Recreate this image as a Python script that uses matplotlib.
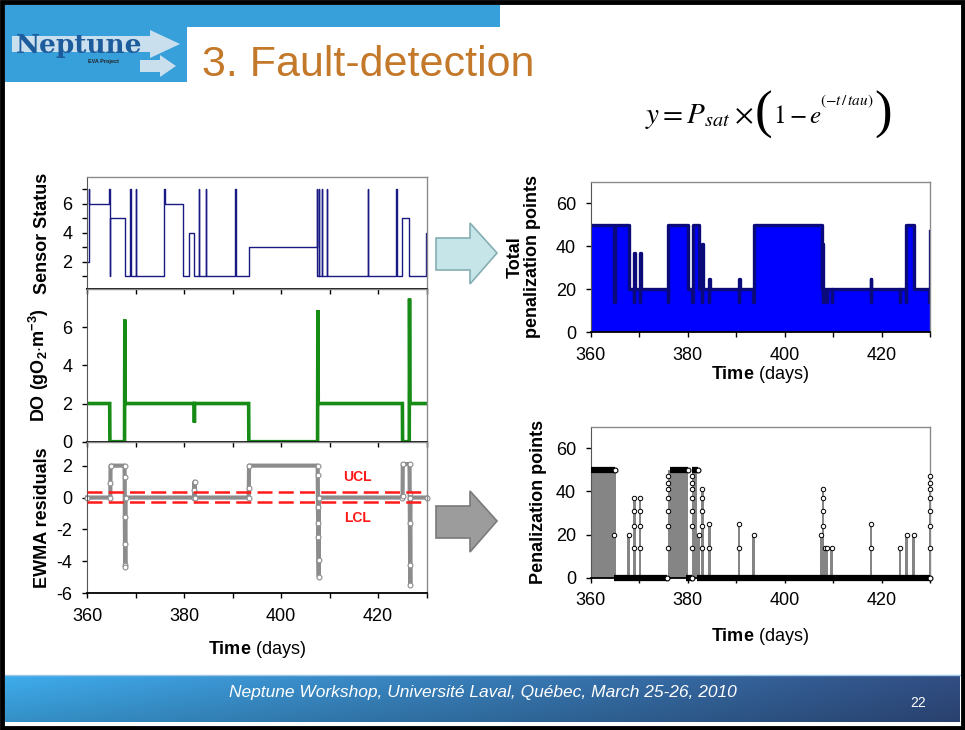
import numpy as np
import matplotlib
matplotlib.use('Agg')
import matplotlib.pyplot as plt
from matplotlib.patches import Rectangle, Polygon

plt.rcParams['font.family'] = ['Liberation Sans', 'DejaVu Sans']
plt.rcParams['mathtext.fontset'] = 'custom'
plt.rcParams['mathtext.rm'] = 'Liberation Sans'
plt.rcParams['mathtext.bf'] = 'Liberation Sans:bold'
plt.rcParams['mathtext.it'] = 'Liberation Sans:italic'
plt.rcParams['axes.unicode_minus'] = False

# ---------------- data ----------------
x_ticks = [360, 370, 380, 390, 400, 410, 420, 430]
x_tick_labels = ['360', '', '380', '', '400', '', '420', '']

status_days = [360.0, 360.34, 360.45, 364.61, 364.66, 364.81, 367.77, 368.94, 369.0, 370.11,
               370.17, 375.95, 376.16, 379.87, 380.97, 382.14, 383.03, 383.09, 384.48, 384.54,
               390.6, 390.66, 393.35, 407.45, 407.51, 407.79, 407.85, 408.48, 408.54, 409.51,
               409.57, 417.9, 417.96, 423.81, 423.87, 425.05, 426.42, 429.97, 430.0]
status_vals = [2, 7, 6, 7, 1, 5, 1, 7, 1, 7,
               1, 7, 6, 1, 4, 1, 7, 1, 7, 1,
               7, 1, 3, 7, 1, 7, 1, 7, 1, 7,
               1, 7, 1, 7, 1, 5, 1, 4, 4]
status_ticks = [1, 2, 3, 4, 5, 6, 7]
status_tick_labels = ['', '2', '', '4', '', '6', '']

do_days = [360.0, 364.68, 364.72, 367.74, 367.8, 367.88, 382.1, 382.14, 382.18, 393.33,
           393.37, 407.54, 407.6, 407.68, 425.03, 425.07, 426.44, 426.5, 426.58, 430.0]
do_vals = [2.0, 2.0, 0.0, 0.0, 6.4, 2.0, 2.0, 1.0, 2.0, 2.0,
           0.0, 0.0, 6.9, 2.0, 2.0, 0.0, 0.0, 7.5, 2.0, 2.0]
do_ticks = [0, 2, 4, 6]

ew_days = [360.0, 364.8, 364.83, 364.86, 367.74, 367.77, 367.8, 367.84, 367.88, 367.92,
           367.96, 382.1, 382.14, 382.18, 382.22, 393.33, 393.37, 393.41, 407.55, 407.58,
           407.62, 407.66, 407.7, 407.74, 407.78, 407.82, 425.03, 425.07, 425.11, 426.5,
           426.54, 426.58, 426.62, 426.66, 426.7, 430.0]
ew_vals = [0, 0, 0.9, 2.0, 2.0, 1.3, -1.2, -2.9, -4.2, -4.35,
           0, 0, 0.5, 1.0, 0, 0, 0.6, 2.0, 2.0, 1.4,
           -0.6, -1.6, -2.5, -3.9, -4.95, 0, 0, 0.1, 2.1, 2.1,
           0.3, -1.6, -4.2, -5.5, 0, 0]
ew_ticks = [-6, -4, -2, 0, 2]
ucl = 0.35
lcl = -0.28

tp_days = [360.0, 364.85, 364.95, 367.8, 368.95, 369.0, 369.1, 370.15, 370.2, 370.3,
           375.9, 376.0, 380.0, 380.95, 381.05, 382.3, 382.95, 383.0, 383.1, 384.45,
           384.5, 384.6, 390.55, 390.6, 390.7, 393.5, 393.6, 407.7, 407.8, 407.9,
           408.0, 408.6, 408.7, 409.7, 409.8, 417.75, 417.8, 417.9, 423.75, 423.85,
           425.0, 425.1, 426.6, 429.85, 429.9, 430.0]
tp_vals = [50, 14, 50, 20, 14, 37, 20, 14, 37, 20,
           14, 50, 20, 14, 50, 20, 14, 41, 20, 14,
           25, 20, 14, 25, 20, 14, 50, 20, 41, 14,
           20, 14, 20, 14, 20, 14, 25, 20, 14, 20,
           14, 50, 20, 14, 47, 47]
pen_ticks = [0, 20, 40, 60]

blk_start = [360.0, 376.0, 380.9]
blk_end = [365.2, 380.05, 382.0]
blk_val = 50
bar_days = [367.8, 369.0, 370.2, 382.3, 383.0, 384.5, 390.6, 393.6, 407.5, 407.9,
            408.3, 408.7, 409.7, 417.8, 423.8, 425.2, 426.6, 430.0]
bar_vals = [20, 37, 37, 20, 41, 25, 25, 20, 20, 41,
            14, 14, 14, 25, 14, 20, 20, 47]
zero_start = [364.8, 379.6, 382.0]
zero_end = [375.8, 380.9, 430.0]
fifty_start = [360.0, 376.3, 381.0]
fifty_end = [365.0, 380.0, 382.2]
mark_days = [364.8, 367.8,
             369.0, 369.0, 369.0, 369.0,
             370.2, 370.2, 370.2, 370.2,
             376.0, 376.0, 376.0, 376.0, 376.0, 376.0, 376.0,
             380.9, 380.9, 380.9, 380.9, 380.9, 380.9, 380.9,
             382.3,
             383.0, 383.0, 383.0, 383.0, 383.0,
             384.5, 384.5, 390.6, 390.6, 393.6, 407.5,
             407.9, 407.9, 407.9, 407.9,
             408.3, 408.7, 409.7, 417.8, 417.8, 423.8, 425.2, 426.6,
             430.0, 430.0, 430.0, 430.0, 430.0, 430.0, 430.0]
mark_vals = [20, 20,
             14, 24, 31, 37,
             14, 24, 31, 37,
             14, 24, 31, 37, 41, 44, 47,
             14, 24, 31, 37, 41, 44, 47,
             20,
             14, 24, 31, 37, 41,
             14, 25, 14, 25, 20, 20,
             24, 31, 37, 41,
             14, 14, 14, 14, 25, 14, 20, 20,
             14, 24, 31, 37, 41, 44, 47]

# ---------------- figure ----------------
W, H = 965, 730
fig = plt.figure(figsize=(W / 100, H / 100), dpi=100)
bg = fig.add_axes([0, 0, 1, 1])
bg.set_xlim(0, W)
bg.set_ylim(H, 0)
bg.axis('off')
renderer = fig.canvas.get_renderer()

# header
bg.add_patch(Rectangle((5, 5), 495, 22, color='#37A0DB', lw=0))
bg.add_patch(Rectangle((5, 27), 182, 55, color='#37A0DB', lw=0))
bg.add_patch(Polygon([[12, 36], [150, 36], [150, 30], [180, 44], [150, 58], [150, 52], [12, 52]],
                     closed=True, fc='#C9DFEE', ec='none'))
bg.add_patch(Polygon([[140, 60], [160, 60], [160, 55], [176, 66], [160, 77], [160, 72], [140, 72]],
                     closed=True, fc='#C9DFEE', ec='none'))
bg.text(16, 45, 'Neptune', fontsize=19, fontweight='bold', family='DejaVu Serif',
        color='#1D5C9C', va='center', ha='left')
bg.text(88, 62, 'EVA Project', fontsize=4, fontweight='bold', color='#222222',
        va='center', ha='left')
bg.text(202, 65, '3. Fault-detection', fontsize=31, color='#C4782A', va='center', ha='left')

# formula, built piece by piece so the brackets can be tall
pieces = [
    (r'$y = P_{sat} \times$', 21, 'stix', 123, 1),
    ('(', 38, None, 128, 1),
    (r'$1 - e$', 18, 'stix', 123, -2),
    (r'$(-t\,/\,tau)$', 11, 'stix', 105, 0),
    (')', 38, None, 128, 0),
]
xcur = 645
for s, fs, mf, yb, gap in pieces:
    if mf is None:
        t = bg.text(xcur, yb, s, fontsize=fs, family='Liberation Serif', ha='left',
                    va='baseline', color='black')
    else:
        t = bg.text(xcur, yb, s, fontsize=fs, math_fontfamily=mf, ha='left',
                    va='baseline', color='black')
    ext = t.get_window_extent(renderer=renderer)
    xcur = ext.x1 + gap

# footer gradient
nx = 256
hx = np.linspace(0, 1, nx)
c1 = np.array([58, 160, 220]) / 255.0
c2 = np.array([46, 72, 122]) / 255.0
row = c1[None, :] * (1 - hx[:, None]) + c2[None, :] * hx[:, None]
vy = np.linspace(1.08, 0.9, 40)
grad = np.clip(row[None, :, :] * vy[:, None, None], 0, 1)
bg.imshow(grad, extent=[5, 960, 722, 675], aspect='auto', interpolation='bilinear', zorder=1)
bg.plot([5, 960], [675, 675], color='#9CC7E6', lw=1, zorder=2)
bg.text(483, 692, 'Neptune Workshop, Université Laval, Québec, March 25-26, 2010',
        fontsize=12.5, style='italic', color='white', ha='center', va='center', zorder=3)
bg.text(918, 703, '22', fontsize=10, color='white', ha='center', va='center', zorder=3)

# arrows
arrow1 = [[436, 238], [470, 238], [470, 223], [497, 253], [470, 284], [470, 270], [436, 270]]
bg.add_patch(Polygon(arrow1, closed=True, fc='#C6E5E8', ec='#86AEB2', lw=1.2))
arrow2 = [[p[0], p[1] + 268] for p in arrow1]
bg.add_patch(Polygon(arrow2, closed=True, fc='#9C9C9C', ec='#7A7A7A', lw=1.2))

# border
bg.add_patch(Rectangle((2, 2), W - 4, H - 4, fill=False, ec='black', lw=3.5, zorder=5))


def px_axes(x0, y0, x1, y1):
    return fig.add_axes([x0 / W, 1 - y1 / H, (x1 - x0) / W, (y1 - y0) / H])


def style(ax, show_xlabels):
    ax.set_facecolor('none')
    ax.set_xlim(360, 430)
    ax.set_xticks(x_ticks)
    if show_xlabels:
        ax.set_xticklabels(x_tick_labels)
    else:
        ax.set_xticklabels([''] * len(x_ticks))
    ax.tick_params(direction='out', length=3.5, width=1, labelsize=13, pad=7, colors='black')
    for s in ['top', 'right']:
        ax.spines[s].set_color('#8A8A8A')
        ax.spines[s].set_linewidth(1)
    ax.spines['left'].set_color('#555555')
    ax.spines['bottom'].set_color('black')
    ax.spines['bottom'].set_linewidth(1.3)


lbl = dict(fontsize=13, fontweight='bold')

# left column
ax1 = px_axes(87, 177, 426.5, 289)
style(ax1, False)
ax1.step(status_days, status_vals, where='post', color='#1A1A85', lw=1)
ax1.set_ylim(0.1, 7.85)
ax1.set_yticks(status_ticks)
ax1.set_yticklabels(status_tick_labels)
ax1.set_ylabel('Sensor Status', **lbl)
ax1.yaxis.set_label_coords(-0.105, 0.5)

ax2 = px_axes(87, 289, 426.5, 441.7)
style(ax2, False)
ax2.plot(do_days, do_vals, color='#168C16', lw=2.6, solid_joinstyle='miter')
ax2.set_ylim(0, 8)
ax2.set_yticks(do_ticks)
ax2.set_ylabel(r'DO (gO$_\mathbf{2}$$\mathbf{\cdot}$m$^\mathbf{-3}$)', **lbl)
ax2.yaxis.set_label_coords(-0.105, 0.5)

ax3 = px_axes(87, 441.7, 426.5, 593.3)
style(ax3, True)
ax3.axhline(ucl, color='#FF1A1A', lw=1.8, ls=(0, (6, 2.5)), zorder=3)
ax3.axhline(lcl, color='#FF1A1A', lw=1.8, ls=(0, (6, 2.5)), zorder=3)
ax3.plot(ew_days, ew_vals, color='#8C8C8C', lw=3, marker='o', ms=3.5, mfc='white',
         mec='#8C8C8C', mew=0.8, zorder=2, clip_on=False)
ax3.text(415.8, 1.3, 'UCL', color='#FF1A1A', fontsize=10, fontweight='bold', ha='center', va='center')
ax3.text(415.8, -1.25, 'LCL', color='#FF1A1A', fontsize=10, fontweight='bold', ha='center', va='center')
ax3.set_ylim(-6, 3.5)
ax3.set_yticks(ew_ticks)
ax3.set_ylabel('EWMA residuals', **lbl)
ax3.yaxis.set_label_coords(-0.105, 0.5)
ax3.set_xlabel(r'$\mathbf{Time}$ (days)', fontsize=13, labelpad=10)

# right column top
ax4 = px_axes(590.7, 181.7, 930, 332.3)
style(ax4, True)
ax4.fill_between(tp_days, tp_vals, step='post', color='#0000FF', lw=0)
ax4.step(tp_days, tp_vals, where='post', color='#0A0A7A', lw=2.4)
ax4.set_ylim(0, 70)
ax4.set_yticks(pen_ticks)
ax4.set_ylabel('Total\npenalization points', fontsize=13, fontweight='bold', linespacing=1.0)
ax4.yaxis.set_label_coords(-0.146, 0.5)
ax4.set_xlabel(r'$\mathbf{Time}$ (days)', fontsize=13, labelpad=0)

# right column bottom
ax5 = px_axes(590.7, 426.7, 930, 577.7)
style(ax5, True)
ax5.bar(blk_start, blk_val, width=np.array(blk_end) - np.array(blk_start), align='edge',
        color='#858585', lw=0)
ax5.bar(bar_days, bar_vals, width=0.55, color='#858585', lw=0)
ax5.hlines([0] * len(zero_start), zero_start, zero_end, color='black', lw=4.5, clip_on=False, zorder=4)
ax5.hlines([50] * len(fifty_start), fifty_start, fifty_end, color='black', lw=4.5, zorder=4)
ax5.plot(mark_days, mark_vals, ls='none', marker='o', ms=3.2, mfc='white', mec='black',
         mew=0.7, zorder=5, clip_on=False)
ax5.plot(zero_end + fifty_end, [0] * len(zero_end) + [50] * len(fifty_end), ls='none',
         marker='o', ms=3.5, mfc='white', mec='black', mew=0.8, zorder=6, clip_on=False)
ax5.set_ylim(0, 70)
ax5.set_yticks(pen_ticks)
ax5.set_ylabel('Penalization points', **lbl)
ax5.yaxis.set_label_coords(-0.128, 0.5)
ax5.set_xlabel(r'$\mathbf{Time}$ (days)', fontsize=13, labelpad=12)

fig.savefig('out.png', dpi=100)
